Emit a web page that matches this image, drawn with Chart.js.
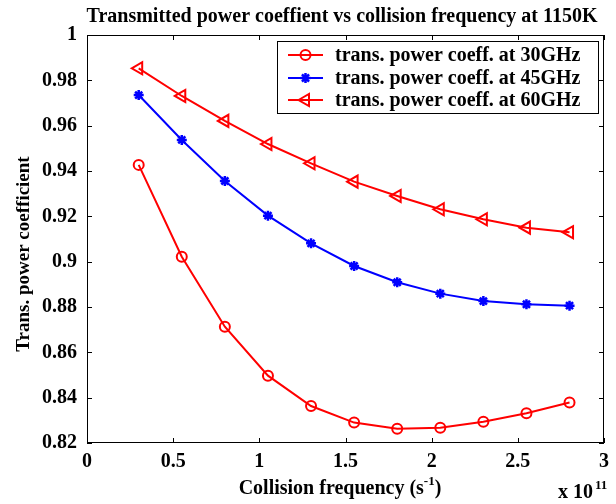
<!DOCTYPE html>
<html lang="en">
  <head>
    <meta charset="UTF-8" />
    <title>Transmitted power coefficient vs collision frequency</title>
    <script src="https://cdn.jsdelivr.net/npm/chart.js"></script>
    <style>
      html, body { margin: 0; padding: 0; background: #fff; }
      #chart { display: block; }
    </style>
  </head>
  <body>
    <canvas id="chart" width="616" height="504"></canvas>

    <script>
      // collision frequency (x 10^11 s^-1)
      const collisionFreq = [0.3, 0.55, 0.8, 1.05, 1.3, 1.55, 1.8, 2.05, 2.3, 2.55, 2.8];

      // transmitted power coefficient per frequency
      const coeff30GHz = [0.9427, 0.9022, 0.8713, 0.8497, 0.8363, 0.8290, 0.8263, 0.8267, 0.8294, 0.8331, 0.8379];
      const coeff45GHz = [0.9735, 0.9537, 0.9356, 0.9203, 0.9081, 0.8981, 0.8909, 0.8859, 0.8826, 0.8812, 0.8806];
      const coeff60GHz = [0.9853, 0.9731, 0.9621, 0.9519, 0.9434, 0.9353, 0.9290, 0.9231, 0.9187, 0.9150, 0.9130];

      const seriesLabels = [
        "trans. power coeff. at 30GHz",
        "trans. power coeff. at 45GHz",
        "trans. power coeff. at 60GHz",
      ];

      const xTicks = [0, 0.5, 1, 1.5, 2, 2.5, 3];
      const yTicks = [0.82, 0.84, 0.86, 0.88, 0.9, 0.92, 0.94, 0.96, 0.98, 1];

      const titleText = "Transmitted power coeffient vs collision frequency at 1150K";
      const FONT = '"Liberation Serif", "Times New Roman", serif';

      function toPoints(ys) {
        return collisionFreq.map((x, i) => ({ x: x, y: ys[i] }));
      }

      // MATLAB風の目盛り表記 (1.00 -> 1, 0.90 -> 0.9)
      function fmtTick(v) {
        return String(Number(v.toFixed(4)));
      }

      // 図枠・目盛り・タイトル・凡例などの描画
      const decorPlugin = {
        id: "decor",
        afterDraw(chart) {
          const ctx = chart.ctx;
          const area = chart.chartArea;
          const xs = chart.scales.x;
          const ys = chart.scales.y;
          const tl = 5;

          ctx.save();
          ctx.strokeStyle = "#000";
          ctx.lineWidth = 1;
          ctx.strokeRect(area.left + 0.5, area.top + 0.5, area.right - area.left - 1, area.bottom - area.top - 1);

          ctx.beginPath();
          xTicks.forEach((v) => {
            const px = Math.round(xs.getPixelForValue(v)) + 0.5;
            ctx.moveTo(px, area.bottom);
            ctx.lineTo(px, area.bottom - tl);
            ctx.moveTo(px, area.top);
            ctx.lineTo(px, area.top + tl);
          });
          yTicks.forEach((v) => {
            const py = Math.round(ys.getPixelForValue(v)) + 0.5;
            ctx.moveTo(area.left, py);
            ctx.lineTo(area.left + tl, py);
            ctx.moveTo(area.right, py);
            ctx.lineTo(area.right - tl, py);
          });
          ctx.stroke();

          ctx.fillStyle = "#000";
          // タイトル
          ctx.font = "bold 20px " + FONT;
          ctx.textAlign = "center";
          ctx.textBaseline = "alphabetic";
          ctx.fillText(titleText, 342, 22);

          // y軸ラベル
          ctx.save();
          ctx.translate(29, 254);
          ctx.rotate(-Math.PI / 2);
          ctx.font = "bold 19px " + FONT;
          ctx.fillText("Trans. power coefficient", 0, 0);
          ctx.restore();

          // x軸ラベル (上付き -1)
          ctx.textAlign = "left";
          const part1 = "Collision frequency (s";
          const sup = "-1";
          const part2 = ")";
          ctx.font = "bold 20px " + FONT;
          const w1 = ctx.measureText(part1).width;
          const w3 = ctx.measureText(part2).width;
          ctx.font = "bold 13px " + FONT;
          const w2 = ctx.measureText(sup).width;
          let x0 = 340 - (w1 + w2 + w3) / 2;
          ctx.font = "bold 20px " + FONT;
          ctx.fillText(part1, x0, 494);
          ctx.font = "bold 13px " + FONT;
          ctx.fillText(sup, x0 + w1, 485);
          ctx.font = "bold 20px " + FONT;
          ctx.fillText(part2, x0 + w1 + w2, 494);

          // 指数表記
          ctx.fillText("x 10", 558, 498);
          ctx.font = "bold 13px " + FONT;
          ctx.fillText("11", 595, 489);

          // 凡例
          const lx = 277, ly = 41, lw = 321, lh = 72;
          ctx.fillStyle = "#fff";
          ctx.fillRect(lx, ly, lw, lh);
          ctx.strokeStyle = "#000";
          ctx.lineWidth = 1;
          ctx.strokeRect(lx + 0.5, ly + 0.5, lw, lh);
          const rows = [55, 78, 100];
          chart.data.datasets.forEach((ds, i) => {
            const y = rows[i];
            ctx.strokeStyle = ds.borderColor;
            ctx.lineWidth = 2;
            ctx.beginPath();
            ctx.moveTo(288, y);
            ctx.lineTo(323, y);
            ctx.stroke();
            ctx.fillStyle = ds.pointBackgroundColor;
            ctx.strokeStyle = ds.pointBorderColor;
            ctx.lineWidth = ds.pointBorderWidth;
            Chart.helpers.drawPoint(ctx, {
              pointStyle: ds.pointStyle,
              rotation: ds.pointRotation || 0,
              radius: ds.pointRadius,
              borderWidth: ds.pointBorderWidth,
            }, 305.5, y);
            ctx.fillStyle = "#000";
            ctx.font = "bold 20px " + FONT;
            ctx.textAlign = "left";
            ctx.textBaseline = "middle";
            ctx.fillText(seriesLabels[i], 335, y + 1);
          });
          ctx.restore();
        },
      };

      const ctx = document.getElementById("chart").getContext("2d");
      new Chart(ctx, {
        type: "line",
        data: {
          datasets: [
            {
              label: seriesLabels[0],
              data: toPoints(coeff30GHz),
              borderColor: "#ff0000",
              backgroundColor: "rgba(0,0,0,0)",
              borderWidth: 2,
              pointStyle: "circle",
              pointRadius: 5,
              pointBorderWidth: 2,
              pointBorderColor: "#ff0000",
              pointBackgroundColor: "rgba(0,0,0,0)",
            },
            {
              label: seriesLabels[1],
              data: toPoints(coeff45GHz),
              borderColor: "#0000ff",
              backgroundColor: "rgba(0,0,0,0)",
              borderWidth: 2,
              pointStyle: "star",
              pointRadius: 5,
              pointBorderWidth: 2.5,
              pointBorderColor: "#0000ff",
              pointBackgroundColor: "#0000ff",
            },
            {
              label: seriesLabels[2],
              data: toPoints(coeff60GHz),
              borderColor: "#ff0000",
              backgroundColor: "rgba(0,0,0,0)",
              borderWidth: 2,
              pointStyle: "triangle",
              pointRotation: -90,
              pointRadius: 7,
              pointBorderWidth: 2,
              pointBorderColor: "#ff0000",
              pointBackgroundColor: "rgba(0,0,0,0)",
            },
          ],
        },
        options: {
          responsive: false,
          animation: false,
          devicePixelRatio: 1,
          layout: { padding: { left: 0, top: 35, right: 11, bottom: 0 } },
          plugins: {
            legend: { display: false },
            title: { display: false },
            tooltip: { enabled: false },
          },
          elements: { line: { tension: 0 } },
          scales: {
            x: {
              type: "linear",
              min: 0,
              max: 3,
              afterFit(scale) { scale.height = 61; },
              afterBuildTicks(scale) { scale.ticks = xTicks.map((v) => ({ value: v })); },
              grid: { display: false, drawTicks: false },
              border: { display: false },
              ticks: {
                color: "#000",
                padding: 7,
                maxRotation: 0,
                callback: (v) => fmtTick(v),
                font: { family: FONT, size: 20, weight: "bold" },
              },
            },
            y: {
              type: "linear",
              min: 0.82,
              max: 1,
              afterFit(scale) { scale.width = 87; },
              afterBuildTicks(scale) { scale.ticks = yTicks.map((v) => ({ value: v })); },
              grid: { display: false, drawTicks: false },
              border: { display: false },
              ticks: {
                color: "#000",
                padding: 10,
                callback: (v) => fmtTick(v),
                font: { family: FONT, size: 20, weight: "bold" },
              },
            },
          },
        },
        plugins: [decorPlugin],
      });
    </script>
  </body>
</html>
